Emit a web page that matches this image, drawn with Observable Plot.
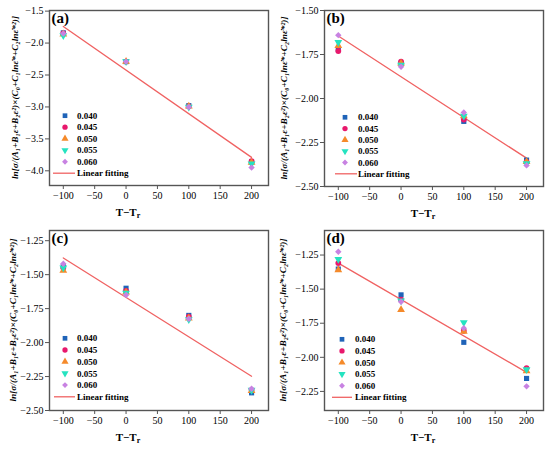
<!DOCTYPE html>
<html><head><meta charset="utf-8">
<script src="https://cdn.jsdelivr.net/npm/d3@7"></script>
<script src="https://cdn.jsdelivr.net/npm/@observablehq/plot@0.6"></script>
<style>
body{margin:0;background:#fff;}
#grid{display:grid;grid-template-columns:275px 275px;grid-template-rows:225px 225px;width:550px;height:450px;}
#grid svg{display:block}
</style></head><body><div id="grid"></div>
<script>
const temps = [-100, 0, 100, 200];
const strains = ["0.040", "0.045", "0.050", "0.055", "0.060"];
const xTicks = [-100, -50, 0, 50, 100, 150, 200];
const fitX = [-100, 200];

const valuesA = [
  [-1.84, -2.29, -2.98, -3.86],
  [-1.85, -2.29, -2.99, -3.85],
  [-1.86, -2.29, -2.99, -3.87],
  [-1.88, -2.29, -3.00, -3.89],
  [-1.85, -2.29, -3.00, -3.95]
];
const valuesB = [
  [-1.72, -1.80, -2.13, -2.35],
  [-1.73, -1.79, -2.12, -2.36],
  [-1.70, -1.80, -2.10, -2.36],
  [-1.68, -1.81, -2.10, -2.37],
  [-1.64, -1.82, -2.08, -2.38]
];
const valuesC = [
  [-1.44, -1.60, -1.80, -2.37],
  [-1.45, -1.62, -1.81, -2.35],
  [-1.47, -1.63, -1.82, -2.355],
  [-1.45, -1.635, -1.83, -2.35],
  [-1.42, -1.65, -1.825, -2.34]
];
const valuesD = [
  [-1.353, -1.542, -1.89, -2.155],
  [-1.309, -1.578, -1.805, -2.08],
  [-1.36, -1.651, -1.81, -2.10],
  [-1.28, -1.585, -1.744, -2.09],
  [-1.226, -1.592, -1.786, -2.213]
];
const fitA = [-1.74, -3.79];
const fitB = [-1.645, -2.339];
const fitC = [-1.377, -2.248];
const fitD = [-1.309, -2.11];

const yTicksA = [-4.0, -3.5, -3.0, -2.5, -2.0, -1.5];
const yTicksB = [-2.5, -2.25, -2.0, -1.75, -1.5];
const yTicksC = [-2.5, -2.25, -2.0, -1.75, -1.5, -1.25];
const yTicksD = [-2.25, -2.0, -1.75, -1.5, -1.25];

const colors = ["#1f63b8", "#e8186c", "#f58a2a", "#25e3c0", "#c882e2"];
const symbols = ["square", "circle", "triangle", "triangle", "diamond2"];
const d3symbols = [d3.symbolSquare, d3.symbolCircle, d3.symbolTriangle, d3.symbolTriangle, d3.symbolDiamond2];
const rotations = [0, 0, 0, 180, 0];
const lineColor = "#f06262";
const serif = "'Liberation Serif','Times New Roman',serif";
const yTitle = "ln[σ/(A₁+B₁ε+B₂ε²)×(C₀+C₁lnε̇*+C₂lnε̇*²)]";

const fmt = n => d => (d < 0 ? "−" : "") + Math.abs(d).toFixed(n);

const panels = [
  {tag: "(a)", values: valuesA, fit: fitA, yDomain: [-4.23, -1.49], yTicks: yTicksA, dec: 1, mt: 10, fh: 175,
   ytx: 15, xtx: 128, leg: {mx: 65, tx: 77, y0: 115.7, dy: 11.5, l0: 53, l1: 75}},
  {tag: "(b)", values: valuesB, fit: fitB, yDomain: [-2.5, -1.5], yTicks: yTicksB, dec: 2, mt: 10, fh: 176,
   ytx: 9, xtx: 148, leg: {mx: 70, tx: 83, y0: 117.3, dy: 11.3, l0: 60, l1: 82}},
  {tag: "(c)", values: valuesC, fit: fitC, yDomain: [-2.5, -1.175], yTicks: yTicksC, dec: 2, mt: 5, fh: 180,
   ytx: 13, xtx: 128, leg: {mx: 65, tx: 77, y0: 113.3, dy: 11.7, l0: 54, l1: 75}},
  {tag: "(d)", values: valuesD, fit: fitD, yDomain: [-2.39, -1.07], yTicks: yTicksD, dec: 2, mt: 5, fh: 180,
   ytx: 8, xtx: 148, leg: {mx: 67, tx: 80, y0: 114.3, dy: 11.6, l0: 57, l1: 77}}
];

const grid = document.getElementById("grid");
const W = 275, H = 225, ML = 49, MR = 7;

panels.forEach(cfg => {
  const fit = fitX.map((x, k) => ({x, y: cfg.fit[k]}));
  const dotMarks = strains.map((s, i) => Plot.dot(
    temps.map((t, j) => ({t, v: cfg.values[i][j]})),
    {x: "t", y: "v", symbol: symbols[i], fill: colors[i], r: 2.9, rotate: rotations[i]}
  ));
  const plot = Plot.plot({
    width: W, height: H,
    marginLeft: ML, marginRight: MR, marginTop: cfg.mt, marginBottom: H - cfg.mt - cfg.fh,
    style: {fontFamily: serif, fontSize: "10px", color: "#000", background: "#fff"},
    x: {domain: [-122, 227]},
    y: {domain: cfg.yDomain},
    marks: [
      Plot.axisX({ticks: xTicks, tickSize: 4, tickPadding: 2, tickFormat: fmt(0), label: null, stroke: "#555", fill: "#000"}),
      Plot.axisY({ticks: cfg.yTicks, tickSize: 4, tickPadding: 2, tickFormat: fmt(cfg.dec), label: null, stroke: "#555", fill: "#000"}),
      Plot.line(fit, {x: "x", y: "y", stroke: lineColor, strokeWidth: 1.3}),
      ...dotMarks,
      Plot.frame({stroke: "#555", strokeWidth: 1.4}),
      Plot.text([cfg.tag], {frameAnchor: "top-left", dx: 2, dy: 2, textAnchor: "start", lineAnchor: "top",
        fontSize: 15, fontWeight: "bold", fill: "#000"})
    ]
  });
  const svg = d3.select(plot);
  const g = svg.append("g").attr("font-family", serif).attr("fill", "#000").attr("text-anchor", "start");
  const L = cfg.leg;
  strains.forEach((s, i) => {
    const y = L.y0 + i * L.dy;
    g.append("path")
      .attr("d", d3.symbol(d3symbols[i], 22)())
      .attr("fill", colors[i])
      .attr("transform", `translate(${L.mx},${y}) rotate(${rotations[i]})`);
    g.append("text").attr("x", L.tx).attr("y", y).attr("dy", "0.35em")
      .attr("font-size", 9).attr("font-weight", "bold").text(s);
  });
  const yl = L.y0 + 5 * L.dy;
  g.append("line").attr("x1", L.l0).attr("x2", L.l1).attr("y1", yl).attr("y2", yl)
    .attr("stroke", lineColor).attr("stroke-width", 1.3);
  g.append("text").attr("x", L.tx).attr("y", yl).attr("dy", "0.35em")
    .attr("font-size", 9).attr("font-weight", "bold").text("Linear fitting");
  // x title
  const xt = g.append("text").attr("x", cfg.xtx).attr("y", cfg.mt + cfg.fh + 31)
    .attr("text-anchor", "middle").attr("font-size", 11).attr("font-weight", "bold");
  xt.append("tspan").text("T−T");
  xt.append("tspan").attr("font-size", 8).attr("dy", 2).text("r");
  // y title
  const cy = cfg.mt + cfg.fh / 2;
  g.append("text").attr("transform", `translate(${cfg.ytx},${cy}) rotate(-90)`)
    .attr("text-anchor", "middle").attr("dy", "0.35em")
    .attr("font-size", 9).attr("font-weight", "bold").attr("font-style", "italic")
    .attr("textLength", 163).attr("lengthAdjust", "spacingAndGlyphs")
    .text(yTitle);
  grid.appendChild(plot);
});
</script></body></html>
